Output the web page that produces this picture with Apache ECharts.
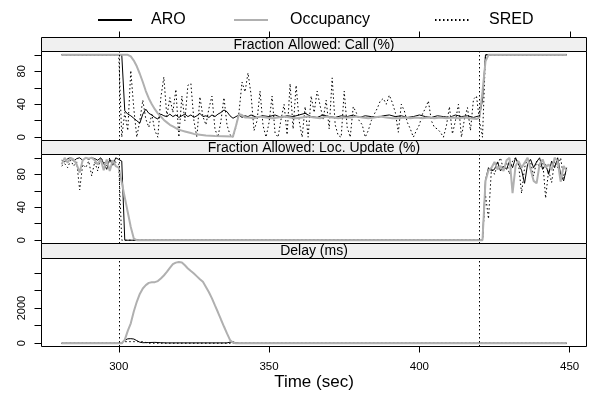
<!DOCTYPE html>
<html>
<head>
<meta charset="utf-8">
<script src="https://cdn.jsdelivr.net/npm/echarts@6/dist/echarts.min.js"></script>
<style>
  html,body{margin:0;padding:0;background:#fff}
  #chart{width:592px;height:403px}
</style>
</head>
<body>
<div id="chart"></div>
<script>
// panel strips, legend names, ticks
const panelTitles = ['Fraction Allowed: Call (%)', 'Fraction Allowed: Loc. Update (%)', 'Delay (ms)'];
const seriesNames = ['ARO', 'Occupancy', 'SRED'];
const xTicks = [300, 350, 400, 450];
const pctTicks = [0, 20, 40, 60, 80, 100];
const pctLabels = [0, 40, 80];
const delayTicks = [0, 1000, 2000, 3000, 4000];
const delayLabels = [0, 2000];
const refTimes = [300, 420];

// [time (sec), value]
const aroCall = [[281,100],[301,100],[302,32],[303,28],[304,26],[305,23],[306,20],[307,17],[308,28],[309,34],[310,29],[311,27],[312,24],[313,22],[314,28],[315,26],[316,25],[317,28],[318,25],[319,27],[320,24],[321,26],[322,28],[323,25],[324,27],[325,24],[326,26],[327,29],[328,25],[329,26],[330,24],[331,27],[332,25],[333,28],[334,30],[335,33],[336,31],[337,26],[338,23],[339,25],[340,27],[341,24],[342,26],[343,25],[344,27],[346,24],[348,26],[350,25],[352,27],[354,24],[356,26],[358,25],[360,27],[362,29],[364,25],[366,24],[368,27],[370,25],[372,24],[374,26],[376,25],[378,27],[380,24],[382,26],[384,25],[386,24],[388,26],[390,27],[392,25],[394,26],[396,24],[398,25],[400,27],[402,25],[404,24],[406,26],[408,25],[410,24],[412,27],[414,25],[416,26],[418,24],[420,26],[421,45],[422,100],[449,100]];
const occCall = [[281,100],[303,100],[304,98],[305,93],[306,86],[307,77],[308,67],[309,56],[310,47],[311,40],[312,34],[313,29],[314,25],[315,21],[316,18],[317,15],[318,13],[319,11],[320,9],[321,8],[322,7],[323,6],[324,5],[325,4],[327,3],[329,2],[332,1.5],[338,1],[339,14],[340,28],[341,27],[342,24],[343,24],[345,23],[347,25],[349,24],[351,23],[353,24],[355,25],[357,24],[359,23],[361,24],[363,25],[365,24],[367,23],[369,25],[371,24],[373,23],[375,24],[377,24],[379,25],[381,24],[383,23],[385,24],[387,25],[389,24],[391,23],[393,23],[395,24],[397,23],[399,24],[401,23],[403,24],[405,23],[407,24],[409,23],[411,24],[413,23],[415,24],[417,23],[419,22],[420,24],[421,55],[422,92],[423,100],[449,100]];
const sredCall = [[281,100],[300,100],[301,0],[302,30],[303,8],[304,81],[305,35],[306,0],[307,20],[308,45],[309,22],[310,12],[311,28],[312,8],[313,0],[314,48],[315,73],[316,25],[317,48],[318,30],[319,58],[320,0],[321,50],[322,20],[323,63],[324,65],[325,20],[326,0],[327,49],[328,25],[329,15],[330,35],[331,50],[332,10],[333,0],[334,20],[335,48],[336,15],[337,3],[338,0],[339,12],[340,30],[341,67],[342,55],[343,78],[344,52],[345,8],[346,20],[347,56],[348,14],[349,0],[350,18],[351,50],[352,5],[353,0],[354,22],[355,40],[356,3],[357,65],[358,10],[359,63],[360,20],[361,0],[362,37],[363,0],[364,50],[365,30],[366,56],[367,38],[368,22],[369,45],[370,10],[371,72],[372,15],[373,2],[374,0],[375,56],[376,12],[377,0],[378,37],[379,30],[380,20],[381,15],[382,0],[383,8],[384,20],[385,28],[386,35],[387,44],[388,47],[389,40],[390,51],[391,42],[392,30],[393,6],[394,40],[395,32],[396,18],[397,10],[398,0],[399,8],[400,15],[401,28],[402,35],[403,44],[404,20],[405,12],[406,10],[407,6],[408,0],[409,14],[410,37],[411,4],[412,20],[413,40],[414,0],[415,22],[416,36],[417,8],[418,46],[419,50],[420,20],[421,0],[422,100],[449,100]];

const aroLoc = [[281,97],[282,95],[283,99],[284,100],[285,96],[286,99],[287,100],[288,97],[289,100],[290,98],[291,100],[292,99],[293,97],[294,100],[295,93],[296,86],[297,98],[298,91],[299,100],[300,98],[301,96],[302,0],[421,0],[422,73],[423,88],[424,84],[425,86],[426,95],[427,84],[428,90],[429,86],[430,96],[431,88],[432,100],[433,92],[434,85],[435,69],[436,92],[437,98],[438,88],[439,95],[440,100],[441,86],[442,92],[443,80],[444,96],[445,88],[446,100],[447,80],[448,72],[449,88]];
const occLoc = [[281,92],[282,100],[283,94],[284,100],[285,98],[286,92],[287,82],[288,97],[289,100],[290,99],[291,100],[292,97],[293,92],[294,98],[295,85],[296,98],[297,84],[298,97],[299,90],[300,88],[301,70],[302,52],[303,34],[304,16],[305,2],[306,0],[421,0],[422,72],[423,85],[424,88],[425,95],[426,86],[427,90],[428,84],[429,97],[430,100],[431,57],[432,90],[433,96],[434,88],[435,94],[436,100],[437,86],[438,72],[439,69],[440,92],[441,98],[442,88],[443,92],[444,85],[445,100],[446,96],[447,71],[448,90],[449,84]];
const sredLoc = [[281,90],[282,93],[283,88],[284,97],[285,90],[286,95],[287,61],[288,92],[289,88],[290,96],[291,78],[292,95],[293,84],[294,100],[295,95],[296,90],[297,100],[298,92],[299,95],[300,92],[301,0],[421,0],[422,55],[423,26],[424,88],[425,80],[426,92],[427,100],[428,85],[429,94],[430,80],[431,96],[432,100],[433,92],[434,57],[435,88],[436,100],[437,95],[438,78],[439,96],[440,88],[441,98],[442,51],[443,85],[444,70],[445,96],[446,88],[447,100],[448,75],[449,86]];

const aroDelay = [[281,0],[301,0],[302,180],[303,250],[304,260],[305,240],[306,150],[307,60],[308,30],[310,40],[312,50],[314,30],[316,20],[336,20],[337,60],[338,80],[339,20],[340,0],[449,0]];
const occDelay = [[281,0],[301,0],[302,190],[303,700],[304,1130],[305,1800],[306,2355],[307,2800],[308,3110],[309,3300],[310,3430],[311,3460],[312,3470],[313,3530],[314,3680],[315,3850],[316,4050],[317,4280],[318,4490],[319,4580],[320,4620],[321,4590],[322,4430],[323,4250],[324,4100],[325,3960],[326,3800],[327,3640],[328,3490],[329,3200],[330,2900],[331,2550],[332,2150],[333,1760],[334,1350],[335,950],[336,560],[337,190],[338,30],[339,0],[449,0]];
const sredDelay = [[281,0],[301,0],[302,90],[308,90],[310,0],[449,0]];

const panelData = [[aroCall, occCall, sredCall], [aroLoc, occLoc, sredLoc], [aroDelay, occDelay, sredDelay]];

// layout (px)
const left = 41.5, plotW = 545;
const stripTops = [37.5, 140.5, 243.5];
const plotTops = [51.5, 154.5, 258.5];
const plotHs = [89, 89, 88];
const xMin = 274.3, xMax = 455.6;
const font = 'Liberation Sans, Arial, Helvetica, sans-serif';
const dot = [1.5, 2.5];

const lineStyles = {
  ARO: {color:'#000', width:1, type:'solid'},
  Occupancy: {color:'#b0b0b0', width:2, type:'solid'},
  SRED: {color:'#000', width:1, type:dot}
};
const zOrder = {ARO:2, SRED:3, Occupancy:4};

const chart = echarts.init(document.getElementById('chart'), null, {renderer:'canvas'});

const grids = plotTops.map((t,i)=>({left:left, top:t, width:plotW, height:plotHs[i],
  show:true, borderColor:'#000', borderWidth:1, backgroundColor:'transparent', containLabel:false}));

const xAxes = [0,1,2].map(i=>({
  type:'value', gridIndex:i, min:xMin, max:xMax, position:'bottom',
  axisLine:{show:false, onZero:false}, splitLine:{show:false},
  axisTick:{show:i===2, length:6, customValues:xTicks, lineStyle:{color:'#000'}},
  axisLabel:{show:i===2, customValues:xTicks, margin:14, fontSize:11.5, fontFamily:font, color:'#000'},
  name: i===2 ? 'Time (sec)' : '', nameLocation:'middle', nameGap:25,
  nameTextStyle:{fontSize:17, fontFamily:font, color:'#000'}
}));

const yAxes = [0,1,2].map(i=>({
  type:'value', gridIndex:i,
  min: i===2 ? -185 : -4, max: i===2 ? 4815 : 104,
  axisLine:{show:false, onZero:false}, splitLine:{show:false},
  axisTick:{show:true, length:7, customValues: i===2 ? delayTicks : pctTicks, lineStyle:{color:'#000'}},
  axisLabel:{customValues: i===2 ? delayLabels : pctLabels, rotate:90, margin:14,
    formatter: v => String(v),
    fontSize:11, fontFamily:font, color:'#000'}
}));

const series = [];
panelData.forEach((arr,i)=>{
  arr.forEach((d,k)=>{
    const nm = seriesNames[k];
    const s = {
      name:nm, type:'line', xAxisIndex:i, yAxisIndex:i, data:d,
      symbol:'none', showSymbol:false, smooth:false, clip:true,
      lineStyle:lineStyles[nm], itemStyle:{color:lineStyles[nm].color},
      emphasis:{disabled:true}, z:zOrder[nm]
    };
    if(k===0){
      s.markLine = {silent:true, symbol:'none', label:{show:false},
        lineStyle:{color:'#000', width:1, type:dot},
        emphasis:{disabled:true},
        data: refTimes.map(t=>({xAxis:t}))};
    }
    series.push(s);
  });
});

const legendLefts = [97, 233, 434];
const legendPads = [14, 17, 15];
const legends = seriesNames.map((nm,k)=>({
  show:true, z:0,
  data:[nm],
  left:legendLefts[k], top:12, padding:0, itemWidth:34, itemHeight:14, selectedMode:false,
  itemStyle:{opacity:0},
  textStyle:{fontSize:16, fontFamily:font, color:'#000', padding:[0,0,0,legendPads[k]]}
}));

const graphics = [];
stripTops.forEach((t,i)=>{
  const h = plotTops[i]-t;
  graphics.push({type:'rect', silent:true, z:1,
    shape:{x:left, y:t, width:plotW, height:h},
    style:{fill:'#f0f0f0', stroke:'#000', lineWidth:1}});
  graphics.push({type:'text', silent:true, z:2,
    x:left+plotW/2, y:t+h/2+0.5,
    style:{text:panelTitles[i], textAlign:'center', textVerticalAlign:'middle',
      align:'center', verticalAlign:'middle',
      fontSize:14, fontFamily:font, fill:'#000'}});
});

chart.setOption({
  animation:false,
  backgroundColor:'#fff',
  grid:grids, xAxis:xAxes, yAxis:yAxes, series:series,
  legend:legends
});

// tick marks above the first strip, placed through the x scale
xTicks.forEach(v=>{
  let px = chart.convertToPixel({xAxisIndex:2}, v);
  if(!isFinite(px)) px = left + (v - xMin) / (xMax - xMin) * plotW;
  px = Math.round(px) + 0.5;
  graphics.push({type:'line', silent:true, z:50,
    shape:{x1:px, y1:stripTops[0]-6, x2:px, y2:stripTops[0]},
    style:{stroke:'#000', lineWidth:1}});
});
chart.setOption({graphic:{elements:graphics}});
</script>
</body>
</html>
